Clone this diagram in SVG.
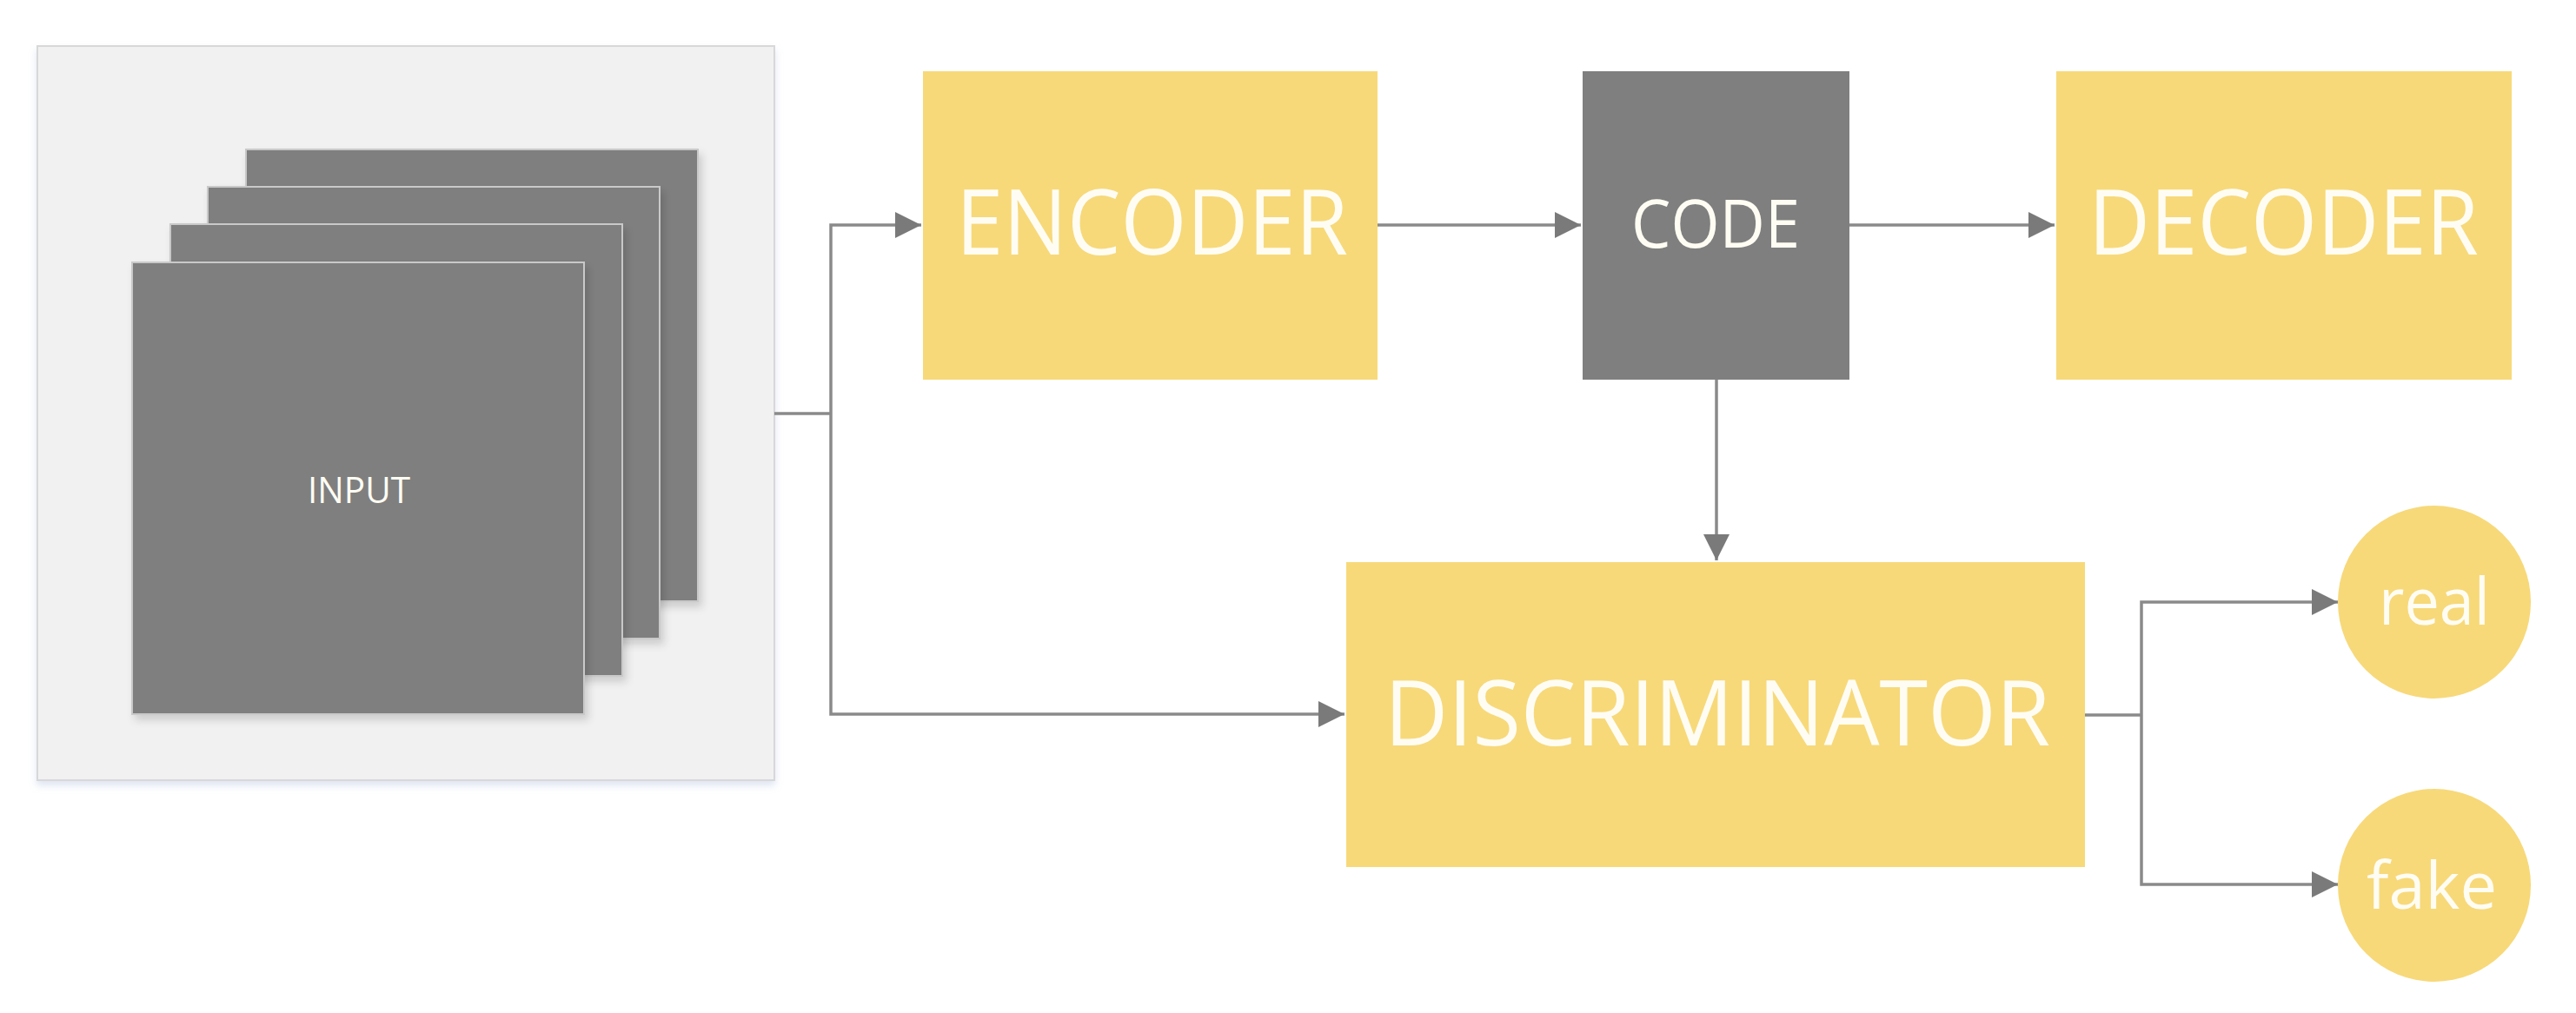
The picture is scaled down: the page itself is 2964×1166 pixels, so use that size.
<svg xmlns="http://www.w3.org/2000/svg" width="2964" height="1166" viewBox="0 0 2964 1166">
  <style>
    .yel { fill: #f7d97a; }
    .gry { fill: #7f7f7f; }
    .sheet { fill: #7f7f7f; stroke: #c9c9c9; stroke-width: 2; }
    .lbl { fill: #fffdf3; font-family: "Open Sans", "Noto Sans", "Liberation Sans", sans-serif; }
    .conn { fill: none; stroke: #8a8a8a; stroke-width: 3.5; }
  </style>
  <defs>
    <marker id="arr" viewBox="0 0 30 30" refX="30" refY="15" markerWidth="30" markerHeight="30" markerUnits="userSpaceOnUse" orient="auto">
      <path d="M0,0 L30,15 L0,30 Z" fill="#7a7a7a"/>
    </marker>
    <filter id="sh" x="-10%" y="-10%" width="130%" height="130%">
      <feDropShadow dx="4" dy="6" stdDeviation="5" flood-color="#000000" flood-opacity="0.15"/>
    </filter>
    <filter id="psh" x="-5%" y="-5%" width="110%" height="112%">
      <feDropShadow dx="0" dy="5" stdDeviation="4" flood-color="#9db4d8" flood-opacity="0.35"/>
    </filter>
  </defs>
  <rect width="2964" height="1166" fill="#ffffff"/>

  <g id="input">
    <rect x="43" y="53" width="848" height="845" fill="#f1f1f2" stroke="#d8d8d8" stroke-width="2" filter="url(#psh)"/>
    <rect class="sheet" x="283" y="172" width="520" height="520" filter="url(#sh)"/>
    <rect class="sheet" x="239" y="215" width="520" height="520" filter="url(#sh)"/>
    <rect class="sheet" x="196" y="258" width="520" height="520" filter="url(#sh)"/>
    <rect class="sheet" x="152" y="302" width="520" height="520" filter="url(#sh)"/>
    <text class="lbl" x="354" y="579" font-size="42" textLength="118" lengthAdjust="spacingAndGlyphs">INPUT</text>
  </g>

  <g id="encoder">
    <rect class="yel" x="1062" y="82" width="523" height="355"/>
    <text class="lbl" x="1100" y="293" font-size="104" textLength="451" lengthAdjust="spacingAndGlyphs">ENCODER</text>
  </g>

  <g id="code">
    <rect class="gry" x="1821" y="82" width="307" height="355"/>
    <text class="lbl" x="1877" y="285" font-size="77" textLength="194" lengthAdjust="spacingAndGlyphs">CODE</text>
  </g>

  <g id="decoder">
    <rect class="yel" x="2366" y="82" width="524" height="355"/>
    <text class="lbl" x="2403" y="293" font-size="104" textLength="449" lengthAdjust="spacingAndGlyphs">DECODER</text>
  </g>

  <g id="discriminator">
    <rect class="yel" x="1549" y="647" width="850" height="351"/>
    <text class="lbl" x="1593" y="858" font-size="104" textLength="766" lengthAdjust="spacingAndGlyphs">DISCRIMINATOR</text>
  </g>

  <g id="real">
    <circle class="yel" cx="2801" cy="693" r="111"/>
    <text class="lbl" x="2737" y="719" font-size="75" textLength="128" lengthAdjust="spacingAndGlyphs">real</text>
  </g>

  <g id="fake">
    <circle class="yel" cx="2801" cy="1019" r="111"/>
    <text class="lbl" x="2723" y="1046" font-size="75" textLength="150" lengthAdjust="spacingAndGlyphs">fake</text>
  </g>

  <g id="connectors">
    <path class="conn" d="M891,476 H956"/>
    <path class="conn" d="M956,476 V259 H1060" marker-end="url(#arr)"/>
    <path class="conn" d="M956,476 V822 H1547" marker-end="url(#arr)"/>
    <path class="conn" d="M1585,259 H1819" marker-end="url(#arr)"/>
    <path class="conn" d="M2128,259 H2364" marker-end="url(#arr)"/>
    <path class="conn" d="M1975,437 V645" marker-end="url(#arr)"/>
    <path class="conn" d="M2399,823 H2464"/>
    <path class="conn" d="M2464,823 V693 H2690" marker-end="url(#arr)"/>
    <path class="conn" d="M2464,823 V1018 H2690" marker-end="url(#arr)"/>
  </g>
</svg>
